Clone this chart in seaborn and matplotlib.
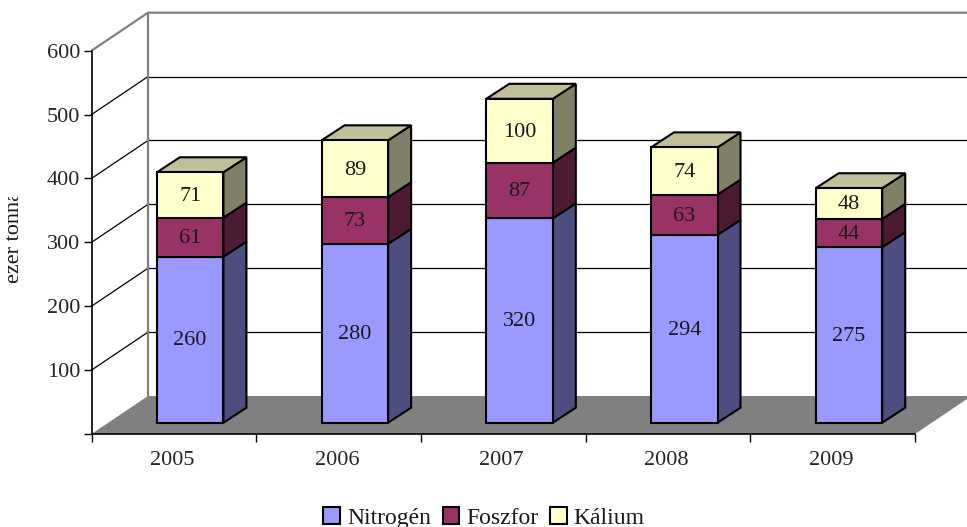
import matplotlib.pyplot as plt
import matplotlib.transforms as mtransforms
from matplotlib.patches import Polygon
import numpy as np
import pandas as pd
import seaborn as sns

years = ['2005', '2006', '2007', '2008', '2009']
nitrogen = [260, 280, 320, 294, 275]
phosphor = [61, 73, 87, 63, 44]
potassium = [71, 89, 100, 74, 48]
series_names = ['Nitrogén', 'Foszfor', 'Kálium']
y_ticks = [0, 100, 200, 300, 400, 500, 600]
y_tick_labels = ['', '100', '200', '300', '400', '500', '600']

front_colors = ['#9999FF', '#993366', '#FFFFCC']
side_colors = ['#4D4D80', '#4D1A33', '#808066']
top_color = '#BFBF99'

W, H = 967, 527
sns.set_theme(style='white')
plt.rcParams['font.family'] = ['Liberation Serif', 'DejaVu Serif']
plt.rcParams['text.color'] = '#1a1a1a'

fig = plt.figure(figsize=(W / 100, H / 100), dpi=100)

# front plane of the fake 3D box, in pixels
left, right, bottom, top = 91.5, 915, 434, 50.7
ax = fig.add_axes([left / W, 1 - bottom / H, (right - left) / W, (bottom - top) / H])
ax.patch.set_alpha(0)

df = pd.DataFrame({'year': years, 'n': nitrogen, 'p': phosphor, 'k': potassium})

# pixels to data units
xpx = 5 / (right - left)
ypx = 600 / (bottom - top)
wall_dx, wall_dy = 56.5 * xpx, 38 * ypx
bar_dx, bar_dy = 23 * xpx, 15 * ypx

# bars sit a little inside the floor
bar_shift = mtransforms.ScaledTranslation(16.3 / 100, 11.3 / 100, fig.dpi_scale_trans)
bar_trans = ax.transData + bar_shift

# floor and walls
ax.add_patch(Polygon([(-0.5, 0), (4.5, 0), (4.5 + wall_dx, wall_dy), (-0.5 + wall_dx, wall_dy)],
                     facecolor='#808080', edgecolor='none', clip_on=False, zorder=0.5))
x0 = -0.5 + wall_dx
x_edge = 4.5 + wall_dx
for t in y_ticks[1:-1]:
    ax.plot([-0.5, x0], [t, t + wall_dy], color='black', lw=0.9, clip_on=False, zorder=0.6)
    ax.plot([x0, x_edge], [t + wall_dy, t + wall_dy], color='black', lw=0.9, clip_on=False, zorder=0.6)
ax.plot([-0.5, x0, x_edge], [600, 600 + wall_dy, 600 + wall_dy], color='#808080', lw=1.6,
        clip_on=False, zorder=0.7)
ax.plot([x0, x0], [wall_dy, 600 + wall_dy], color='#808080', lw=1.6, clip_on=False, zorder=0.7)

# stacked bars
running = np.zeros(len(years))
containers = []
for col, face in zip(['n', 'p', 'k'], front_colors):
    sns.barplot(data=df, x='year', y=col, color=face, saturation=1, width=0.404,
                bottom=running, edgecolor='black', linewidth=1.5, ax=ax, zorder=3)
    containers.append(ax.containers[-1])
    running = running + df[col].values

for cont, side in zip(containers, side_colors):
    for bar, label_value in zip(cont, cont.datavalues):
        bar.set_transform(bar_trans)
        bar.set_clip_on(False)
        x1 = bar.get_x() + bar.get_width()
        y1 = bar.get_y()
        y2 = y1 + bar.get_height()
        ax.add_patch(Polygon([(x1, y1), (x1 + bar_dx, y1 + bar_dy), (x1 + bar_dx, y2 + bar_dy), (x1, y2)],
                             facecolor=side, edgecolor='black', lw=1.5, transform=bar_trans,
                             clip_on=False, zorder=2.9, joinstyle='miter'))
        ax.text(bar.get_x() + bar.get_width() / 2, y1 + bar.get_height() / 2 - 2, f'{label_value:g}',
                ha='center', va='center', fontsize=16, color='#1a1a1a', transform=bar_trans, zorder=4)

# top faces of the stack
for bar in containers[-1]:
    xa = bar.get_x()
    xb = xa + bar.get_width()
    yt = bar.get_y() + bar.get_height()
    ax.add_patch(Polygon([(xa, yt), (xb, yt), (xb + bar_dx, yt + bar_dy), (xa + bar_dx, yt + bar_dy)],
                         facecolor=top_color, edgecolor='black', lw=1.5, transform=bar_trans,
                         clip_on=False, zorder=2.9, joinstyle='miter'))

# axes
ax.set_xlim(-0.5, 4.5)
ax.set_ylim(0, 600)
ax.set_xlabel('')
ax.set_ylabel('')
sns.despine(ax=ax, top=True, right=True)
for s in ['left', 'bottom']:
    ax.spines[s].set_color('black')
    ax.spines[s].set_linewidth(1.2)
    ax.spines[s].set_zorder(5)
ax.set_yticks(y_ticks)
ax.set_yticklabels(y_tick_labels, fontsize=16)
ax.set_xticks(np.arange(-0.5, 5, 1))
ax.set_xticklabels([])
ax.set_xticks(np.arange(5) - 0.01, labels=years, minor=True, fontsize=16)
ax.tick_params(axis='y', which='major', left=True, length=6, width=1, color='black', pad=2)
ax.tick_params(axis='x', which='major', bottom=True, length=6, width=1, color='black')
ax.tick_params(axis='x', which='minor', bottom=False, length=0, pad=12)
ax.xaxis.get_major_ticks()[-1].tick1line.set_color('#808080')

# axis title, cut off by its box as in the source
ylab = fig.text(15 / W, 1 - 283 / H, 'ezer tonna', rotation=90, ha='center', va='bottom', fontsize=16)
ylab.set_clip_box(mtransforms.Bbox([[0, H - 283], [40, H - 197]]))
ylab.set_clip_on(True)

handles = [c[0] for c in containers]
ax.legend(handles, series_names, ncol=3, frameon=False, fontsize=17, loc='center',
          bbox_to_anchor=(484 / W, 1 - 518 / H), bbox_transform=fig.transFigure,
          handlelength=0.7, handleheight=0.7, handletextpad=0.3, columnspacing=0.5,
          borderpad=0, borderaxespad=0)

fig.savefig('out.png', dpi=100)
